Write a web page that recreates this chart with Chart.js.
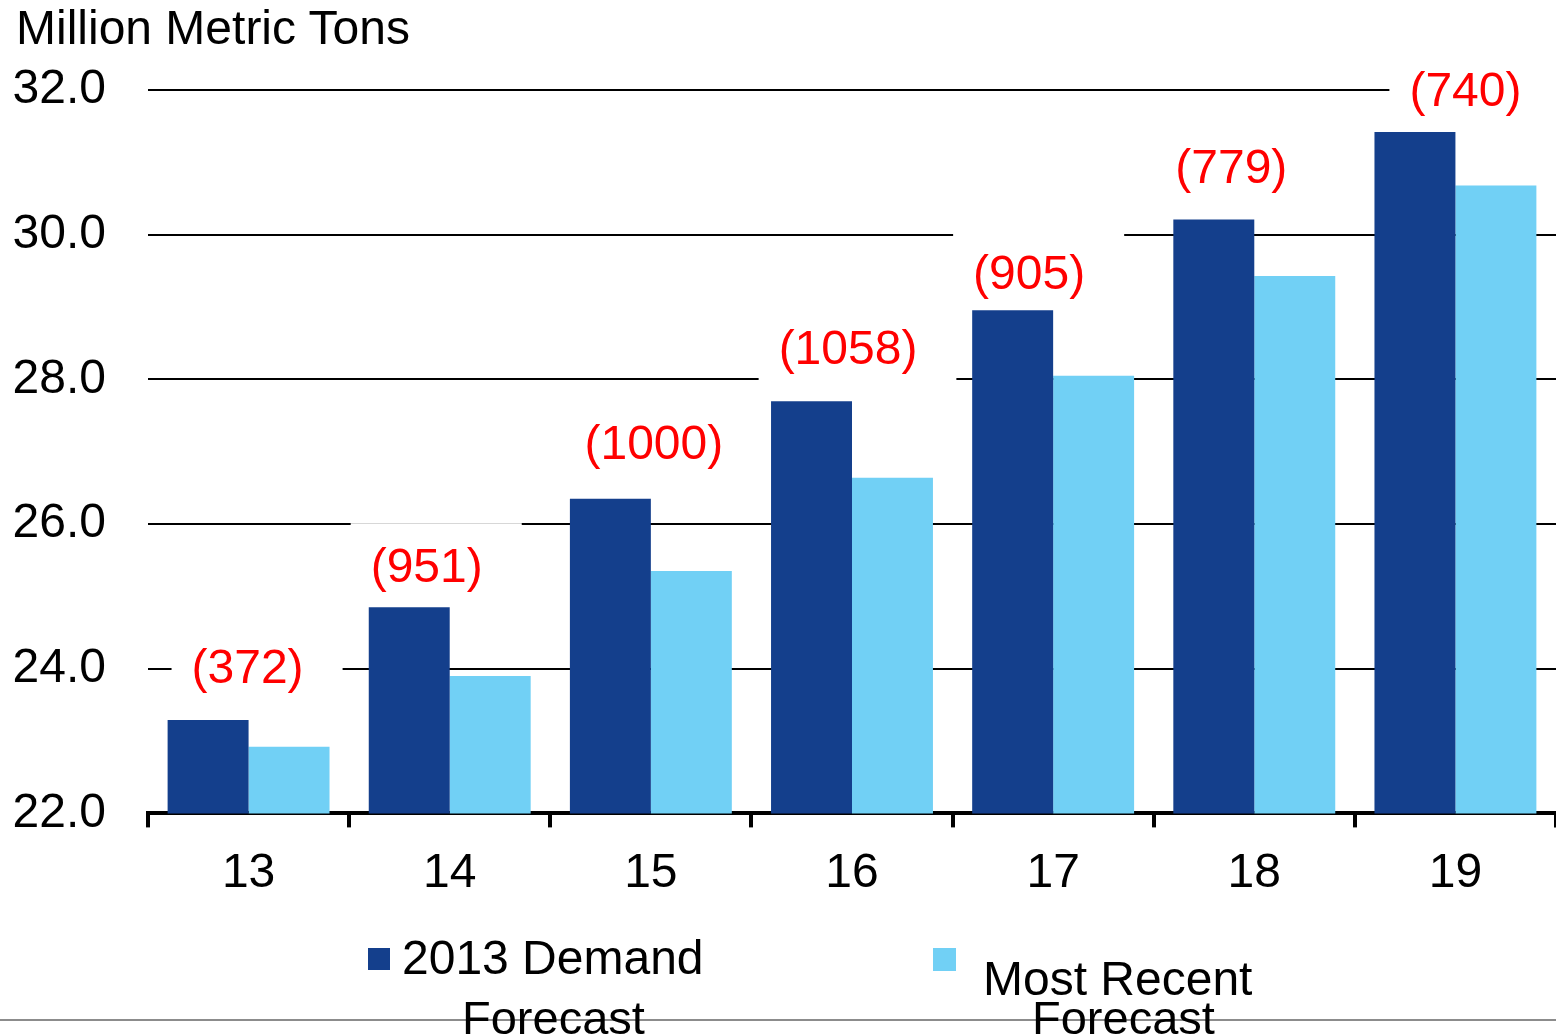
<!DOCTYPE html>
<html>
<head>
<meta charset="utf-8">
<script src="https://cdn.jsdelivr.net/npm/chart.js@4.4.1/dist/chart.umd.min.js"></script>
<style>
  body { margin: 0; background: #fff; overflow: hidden; font-family: "Liberation Sans", Arial, sans-serif; }
  #wrap { position: relative; width: 1556px; height: 1036px; }
  #chart { position: absolute; left: 0; top: 0; }
  .txt { position: absolute; color: #000; line-height: 1; white-space: nowrap; }
  .swatch { position: absolute; width: 22px; height: 22px; }
  #rule { position: absolute; left: 0; top: 1019px; width: 1556px; height: 2px; background: #8c8c8c; }
</style>
</head>
<body>
<div id="wrap">
  <canvas id="chart" width="1556" height="1036"></canvas>
  <div class="txt" style="left:16px; top:4px; font-size:48px;">Million Metric Tons</div>

  <div id="rule"></div>
  <div class="swatch" style="left:368px; top:948px; background:#143F8C;"></div>
  <div class="txt" style="left:402px; top:934px; font-size:48px;">2013 Demand</div>
  <div class="txt" style="left:462px; top:994px; font-size:47px;">Forecast</div>
  <div class="swatch" style="left:933px; top:948px; width:23px; height:23px; background:#71D0F5;"></div>
  <div class="txt" style="left:983px; top:955px; font-size:48px;">Most Recent</div>
  <div class="txt" style="left:1032px; top:994px; font-size:47px;">Forecast</div>
</div>
<script>
// years (20xx) on the x axis
const years = ['13', '14', '15', '16', '17', '18', '19'];
// million metric tons
const demand2013 = [23.292, 24.851, 26.35, 27.698, 28.955, 30.209, 31.42];
const mostRecent = [22.92, 23.90, 25.35, 26.64, 28.05, 29.43, 30.68];
// shortfall vs. the 2013 forecast, thousand metric tons
const shortfall = [372, 951, 1000, 1058, 905, 779, 740];

// hand placement of the red call-outs (px, relative to group centre / dark bar top)
const calloutDx = [-1, -23, 3, -4, -24, -23, 10];
const calloutDy = [51, 39, 54, 51, 36, 51, 40];

const FONT = '"Liberation Sans", Arial, sans-serif';

// red "(nnn)" labels sitting in white boxes that knock out the grid lines
const calloutPlugin = {
    id: 'callouts',
    beforeDatasetsDraw(chart) {
        const ctx = chart.ctx;
        const x = chart.scales.x;
        const y = chart.scales.y;
        ctx.save();
        ctx.font = '48px ' + FONT;
        ctx.textAlign = 'center';
        ctx.textBaseline = 'middle';
        shortfall.forEach((v, i) => {
            const label = '(' + v + ')';
            const w = ctx.measureText(label).width;
            const cx = x.getPixelForValue(i) + calloutDx[i];
            const cy = y.getPixelForValue(demand2013[i]) - calloutDy[i];
            ctx.fillStyle = '#fff';
            ctx.fillRect(cx - w / 2 - 20, cy - 45, w + 59, 80);
            ctx.fillStyle = '#FF0000';
            ctx.fillText(label, cx, cy + 1);
        });
        ctx.restore();
    }
};

const ctx = document.getElementById('chart').getContext('2d');
new Chart(ctx, {
    type: 'bar',
    data: {
        labels: years,
        datasets: [
            { label: '2013 Demand Forecast', data: demand2013, backgroundColor: '#143F8C' },
            { label: 'Most Recent Forecast', data: mostRecent, backgroundColor: '#71D0F5' }
        ]
    },
    options: {
        responsive: false,
        animation: false,
        layout: { padding: { top: 90, right: 0, bottom: 115, left: 0 } },
        datasets: { bar: { categoryPercentage: 0.805, barPercentage: 1.0 } },
        plugins: {
            legend: { display: false },
            tooltip: { enabled: false }
        },
        scales: {
            x: {
                offset: true,
                grid: { offset: true, drawOnChartArea: false, drawTicks: true, tickLength: 14, color: '#000', lineWidth: 4 },
                border: { color: '#000', width: 4 },
                ticks: { color: '#000', font: { family: FONT, size: 48 }, padding: 18 }
            },
            y: {
                min: 22,
                max: 32,
                afterFit: s => { s.width = 148; },
                grid: { color: '#000', lineWidth: 2, drawTicks: false },
                border: { display: false },
                ticks: {
                    stepSize: 2,
                    color: '#000',
                    padding: 42,
                    font: { family: FONT, size: 48 },
                    callback: v => v.toFixed(1)
                }
            }
        }
    },
    plugins: [calloutPlugin]
});
</script>
</body>
</html>
